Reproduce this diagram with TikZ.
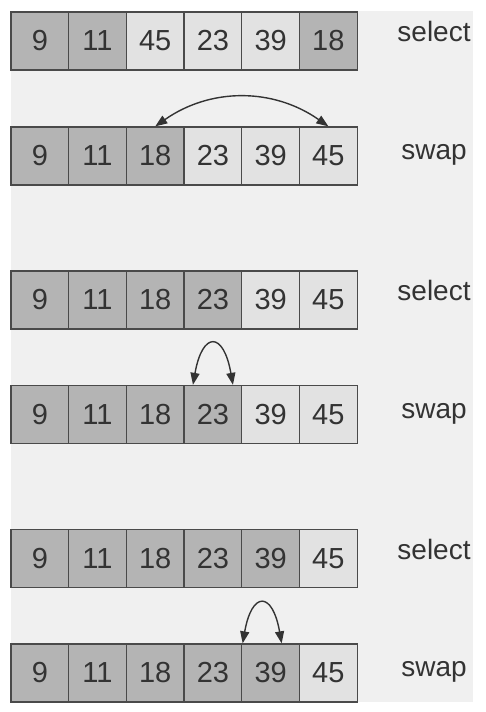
\documentclass[tikz,border=0pt]{standalone}
\usepackage{fontspec}
\setmainfont{Liberation Sans}
\usetikzlibrary{positioning, arrows.meta}

\definecolor{pagegray}{HTML}{F0F0F0}
\definecolor{donegray}{HTML}{B4B4B4}
\definecolor{restgray}{HTML}{E2E2E2}
\definecolor{edgegray}{HTML}{4A4A4A}
\definecolor{inkgray}{HTML}{333333}

\begin{document}
\begin{tikzpicture}[x=1pt, y=1pt, node distance=57.7pt,
	cell/.style={draw=edgegray, line width=1.3pt, minimum width=57.7pt, minimum height=58pt, inner sep=0pt, text=inkgray, font=\fontsize{29}{29}\selectfont},
	sorted/.style={cell, fill=donegray},
	unsorted/.style={cell, fill=restgray},
	word/.style={anchor=base, text=inkgray, font=\fontsize{28}{28}\selectfont},
	swp/.style={<->, >={Triangle[length=12pt, width=9pt]}, line width=1.4pt, draw=inkgray}]
		\useasboundingbox (0,0) rectangle (486,712);
		\fill[pagegray] (11,10) rectangle (473,701);
		
		% select 18
		\node[sorted] (a1) at (39.85,671) {9};
		\node[sorted] (a2) [right of=a1] {11};
		\node[unsorted] (a3) [right of=a2] {45};
		\node[unsorted] (a4) [right of=a3] {23};
		\node[unsorted] (a5) [right of=a4] {39};
		\node[sorted] (a6) [right of=a5] {18};
		\node[word] (ta) at (434,670) {select};
		
		% swap 18 and 45
		\node[sorted] (b1) at (39.85,556) {9};
		\node[sorted] (b2) [right of=b1] {11};
		\node[sorted] (b3) [right of=b2] {18};
		\node[unsorted] (b4) [right of=b3] {23};
		\node[unsorted] (b5) [right of=b4] {39};
		\node[unsorted] (b6) [right of=b5] {45};
		\node[word] (tb) at (434,552) {swap};
		
		% select 23
		\node[sorted] (c1) at (39.85,412) {9};
		\node[sorted] (c2) [right of=c1] {11};
		\node[sorted] (c3) [right of=c2] {18};
		\node[sorted] (c4) [right of=c3] {23};
		\node[unsorted] (c5) [right of=c4] {39};
		\node[unsorted] (c6) [right of=c5] {45};
		\node[word] (tc) at (434,411) {select};
		
		% swap 23 with itself
		\node[sorted] (d1) at (39.85,297.5) {9};
		\node[sorted] (d2) [right of=d1] {11};
		\node[sorted] (d3) [right of=d2] {18};
		\node[sorted] (d4) [right of=d3] {23};
		\node[unsorted] (d5) [right of=d4] {39};
		\node[unsorted] (d6) [right of=d5] {45};
		\node[word] (td) at (434,293.5) {swap};
		
		% select 39
		\node[sorted] (e1) at (39.85,153.5) {9};
		\node[sorted] (e2) [right of=e1] {11};
		\node[sorted] (e3) [right of=e2] {18};
		\node[sorted] (e4) [right of=e3] {23};
		\node[sorted] (e5) [right of=e4] {39};
		\node[unsorted] (e6) [right of=e5] {45};
		\node[word] (te) at (434,152.5) {select};
		
		% swap 39 with itself
		\node[sorted] (f1) at (39.85,39) {9};
		\node[sorted] (f2) [right of=f1] {11};
		\node[sorted] (f3) [right of=f2] {18};
		\node[sorted] (f4) [right of=f3] {23};
		\node[sorted] (f5) [right of=f4] {39};
		\node[unsorted] (f6) [right of=f5] {45};
		\node[word] (tf) at (434,35) {swap};
		
		\draw[swp] (b3.north) to [out=35, in=145] (b6.north);
		\draw[swp] ([xshift=-20pt]d4.north) to [out=80, in=100, looseness=3.5] ([xshift=20pt]d4.north);
		\draw[swp] ([xshift=-28pt]f5.north) to [out=80, in=100, looseness=3.5] ([xshift=11pt]f5.north);
	\end{tikzpicture}
\end{document}
